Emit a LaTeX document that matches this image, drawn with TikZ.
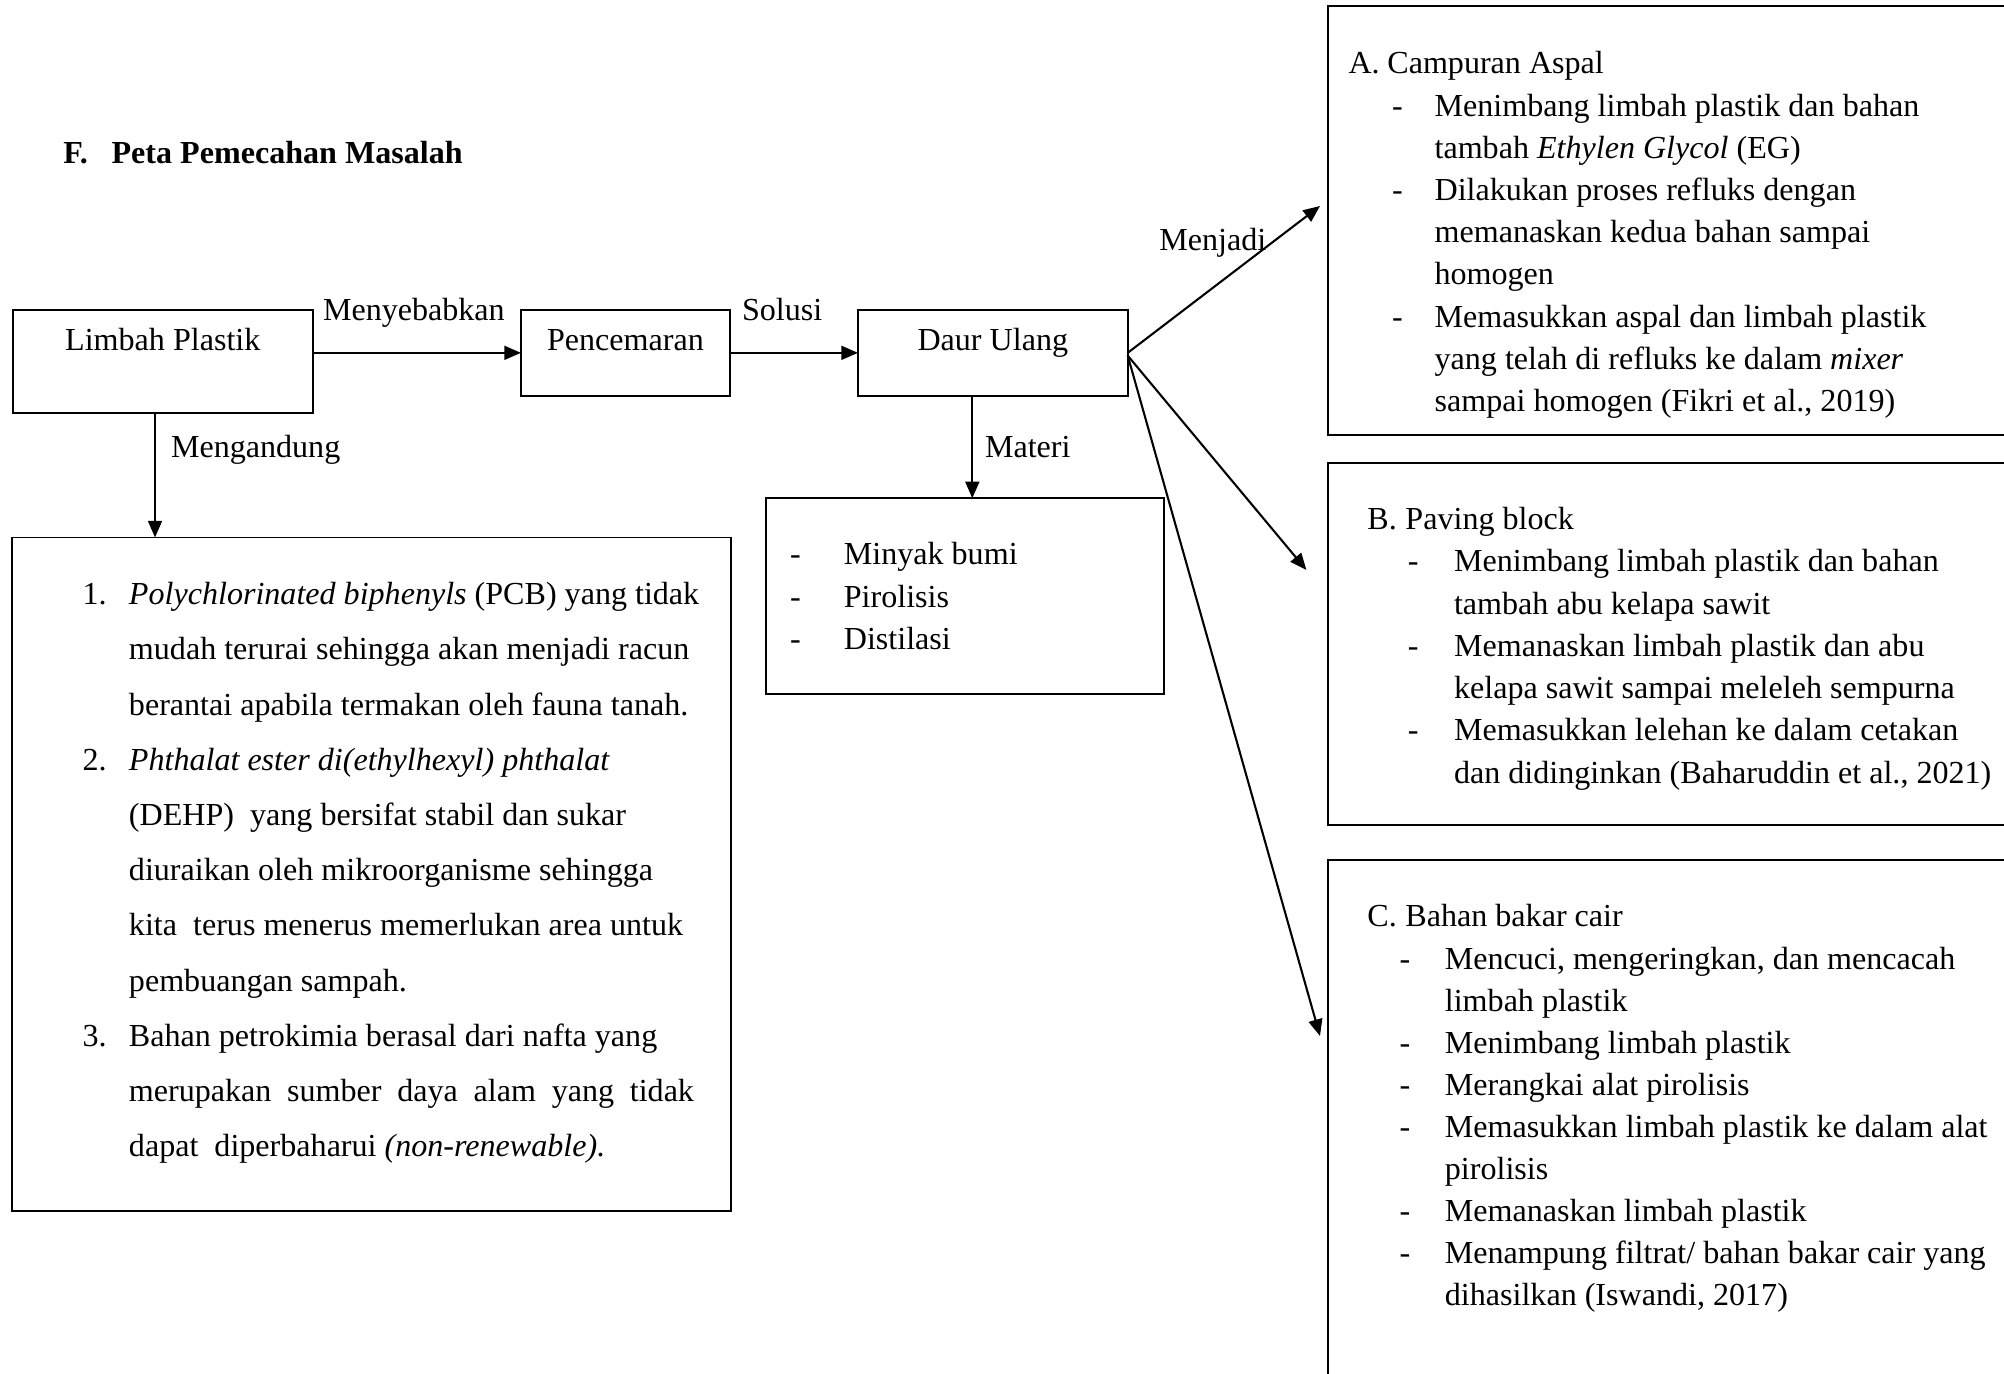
\documentclass[tikz,border=0pt]{standalone}
\usepackage{fontspec}
\setmainfont{Liberation Serif}
\usetikzlibrary{arrows.meta,calc}
\begin{document}
\begin{tikzpicture}[x=0.36pt,y=-0.36pt,
  box/.style={draw,line width=0.7pt,inner sep=0pt,outer sep=0pt,anchor=north west},
  txt/.style={inner sep=0pt,outer sep=0pt,font=\fontsize{11.55}{14}\selectfont},
  arr/.style={line width=0.75pt,-{Triangle[length=6pt,width=5pt]}}]
\useasboundingbox (0,0) rectangle (2004,1374);
% title
\node[txt,anchor=base west] (title) at (63.3,163.3) {\textbf{\makebox[17.4pt][l]{F.}Peta Pemecahan Masalah}};
% boxes
\node[box,minimum width=300.4*0.36pt,minimum height=103*0.36pt] (limbah) at (12.6,310) {};
\node[box,minimum width=209*0.36pt,minimum height=85.7*0.36pt] (pencemaran) at (521,310) {};
\node[box,minimum width=269.7*0.36pt,minimum height=85.7*0.36pt] (daur) at (858,310) {};
\node[box,minimum width=718.6*0.36pt,minimum height=673.5*0.36pt] (leftbox) at (12,537.5) {};
\node[box,minimum width=397.7*0.36pt,minimum height=195.7*0.36pt] (materi) at (766,498.3) {};
\node[box,minimum width=700*0.36pt,minimum height=429*0.36pt] (boxA) at (1328,6) {};
\node[box,minimum width=700*0.36pt,minimum height=361.7*0.36pt] (boxB) at (1328,463.3) {};
\node[box,minimum width=700*0.36pt,minimum height=540*0.36pt] (boxC) at (1328,860) {};
% box labels
\node[txt,anchor=base] (tlimbah) at (162.8,350.7) {Limbah Plastik};
\node[txt,anchor=base] (tpencemaran) at (625.5,350.7) {Pencemaran};
\node[txt,anchor=base] (tdaur) at (992.8,350.7) {Daur Ulang};
% connector labels
\node[txt,anchor=base west] (lmenyebabkan) at (323,320.7) {Menyebabkan};
\node[txt,anchor=base west] (lsolusi) at (742,320.7) {Solusi};
\node[txt,anchor=base west] (lmengandung) at (171,458) {Mengandung};
\node[txt,anchor=base west] (lmateri) at (985,458) {Materi};
\node[txt,anchor=base west] (lmenjadi) at (1159.3,250.7) {Menjadi};
% left list
\node[txt,anchor=base west] (leftlist) at (82.6,604.8) {\fontsize{11.55}{19.87}\selectfont
\begin{tabular}[t]{@{}l@{}}
\makebox[16.7pt][l]{1.}\textit{Polychlorinated biphenyls} (PCB) yang tidak\\
\hspace*{16.7pt}mudah terurai sehingga akan menjadi racun\\
\hspace*{16.7pt}berantai apabila termakan oleh fauna tanah.\\
\makebox[16.7pt][l]{2.}\textit{Phthalat ester di(ethylhexyl) phthalat}\\
\hspace*{16.7pt}(DEHP)\ \ yang bersifat stabil dan sukar\\
\hspace*{16.7pt}diuraikan oleh mikroorganisme sehingga\\
\hspace*{16.7pt}kita\ \ terus menerus memerlukan area untuk\\
\hspace*{16.7pt}pembuangan sampah.\\
\makebox[16.7pt][l]{3.}Bahan petrokimia berasal dari nafta yang\\
\hspace*{16.7pt}\makebox[203.4pt][s]{merupakan sumber daya alam yang tidak}\\
\hspace*{16.7pt}dapat\ \ diperbaharui \textit{(non-renewable).}
\end{tabular}};
% materi list
\node[txt,anchor=base west] (materilist) at (790,565) {\fontsize{11.55}{15.3}\selectfont
\begin{tabular}[t]{@{}l@{}}
\makebox[19.4pt][l]{-}Minyak bumi\\
\makebox[19.4pt][l]{-}Pirolisis\\
\makebox[19.4pt][l]{-}Distilasi
\end{tabular}};
% box A
\node[txt,anchor=base west] (listA) at (1348.5,74) {\fontsize{11.55}{15.19}\selectfont
\begin{tabular}[t]{@{}l@{}}
\makebox[14pt][l]{A.}Campuran Aspal\\
\hspace*{15.7pt}\makebox[15.3pt][l]{-}Menimbang limbah plastik dan bahan\\
\hspace*{31pt}tambah \textit{Ethylen Glycol} (EG)\\
\hspace*{15.7pt}\makebox[15.3pt][l]{-}Dilakukan proses refluks dengan\\
\hspace*{31pt}memanaskan kedua bahan sampai\\
\hspace*{31pt}homogen\\
\hspace*{15.7pt}\makebox[15.3pt][l]{-}Memasukkan aspal dan limbah plastik\\
\hspace*{31pt}yang telah di refluks ke dalam \textit{mixer}\\
\hspace*{31pt}sampai homogen (Fikri et al., 2019)
\end{tabular}};
% box B
\node[txt,anchor=base west] (listB) at (1367.4,529.5) {\fontsize{11.55}{15.22}\selectfont
\begin{tabular}[t]{@{}l@{}}
\makebox[13.7pt][l]{B.}Paving block\\
\hspace*{14.6pt}\makebox[16.6pt][l]{-}Menimbang limbah plastik dan bahan\\
\hspace*{31.2pt}tambah abu kelapa sawit\\
\hspace*{14.6pt}\makebox[16.6pt][l]{-}Memanaskan limbah plastik dan abu\\
\hspace*{31.2pt}kelapa sawit sampai meleleh sempurna\\
\hspace*{14.6pt}\makebox[16.6pt][l]{-}Memasukkan lelehan ke dalam cetakan\\
\hspace*{31.2pt}dan didinginkan (Baharuddin et al., 2021)
\end{tabular}};
% box C
\node[txt,anchor=base west] (listC) at (1367.4,927) {\fontsize{11.55}{15.14}\selectfont
\begin{tabular}[t]{@{}l@{}}
\makebox[13.7pt][l]{C.}Bahan bakar cair\\
\hspace*{11.6pt}\makebox[16.3pt][l]{-}Mencuci, mengeringkan, dan mencacah\\
\hspace*{27.9pt}limbah plastik\\
\hspace*{11.6pt}\makebox[16.3pt][l]{-}Menimbang limbah plastik\\
\hspace*{11.6pt}\makebox[16.3pt][l]{-}Merangkai alat pirolisis\\
\hspace*{11.6pt}\makebox[16.3pt][l]{-}Memasukkan limbah plastik ke dalam alat\\
\hspace*{27.9pt}pirolisis\\
\hspace*{11.6pt}\makebox[16.3pt][l]{-}Memanaskan limbah plastik\\
\hspace*{11.6pt}\makebox[16.3pt][l]{-}Menampung filtrat/ bahan bakar cair yang\\
\hspace*{27.9pt}dihasilkan (Iswandi, 2017)
\end{tabular}};
% free arrow ends
\coordinate (tipA) at (1320,206);
\coordinate (tipB) at (1306.4,570);
\coordinate (tipC) at (1320,1036);
% connectors
\draw[arr] (limbah.east |- pencemaran.west) -- (pencemaran.west);
\draw[arr] (pencemaran.east) -- (daur.west);
\draw[arr] ([xshift=-2.8pt]limbah.south) -- ([xshift=-2.8pt]limbah.south |- leftbox.north);
\draw[arr] ([xshift=-7.4pt]daur.south) -- ([xshift=-7.4pt]daur.south |- materi.north);
\draw[arr] (daur.east) -- (tipA);
\draw[arr] ([yshift=-1pt]daur.east) -- (tipB);
\draw[arr] ([yshift=-1pt]daur.east) -- (tipC);
\end{tikzpicture}
\end{document}
